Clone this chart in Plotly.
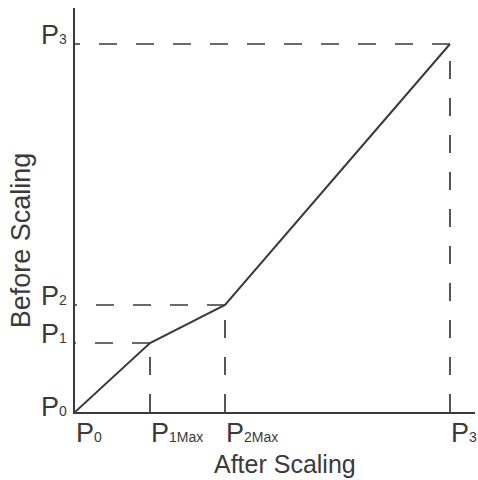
import plotly.graph_objects as go

# Data (in arbitrary units)
x_points = [0, 75, 150, 375]       # P0, P1Max, P2Max, P3 (after scaling)
y_points = [0, 69, 107, 368]       # P0, P1, P2, P3 (before scaling)
x_subs = ["0", "1Max", "2Max", "3"]
y_subs = ["0", "1", "2", "3"]

line_col = "#3a3a3a"
font_fam = "Liberation Sans, Arial, sans-serif"
SUB = "P<span style='font-size:14px'>{}</span>"
DASH = "18px,19px"

fig = go.Figure()

# dashed guide lines
for xv, yv in zip(x_points[1:], y_points[1:]):
    fig.add_trace(go.Scatter(x=[xv, 0], y=[yv, yv], mode="lines",
                             line=dict(color=line_col, width=1.7, dash=DASH),
                             hoverinfo="skip", showlegend=False))
    fig.add_trace(go.Scatter(x=[xv, xv], y=[0, yv], mode="lines",
                             line=dict(color=line_col, width=1.7, dash=DASH),
                             hoverinfo="skip", showlegend=False))

# main curve
fig.add_trace(go.Scatter(x=x_points, y=y_points, mode="lines",
                         line=dict(color=line_col, width=2),
                         showlegend=False))

annotations = []
for xv, s in zip(x_points, x_subs):
    annotations.append(dict(x=xv, y=0, xref="x", yref="y", text=SUB.format(s), showarrow=False,
                            xanchor="left", yanchor="top", yshift=-4, xshift=-1,
                            font=dict(family=font_fam, size=27, color=line_col)))
for yv, s in zip(y_points, y_subs):
    annotations.append(dict(x=0, y=yv, xref="x", yref="y", text=SUB.format(s), showarrow=False,
                            xanchor="right", yanchor="middle", yshift=9 if yv else 5, xshift=-6,
                            font=dict(family=font_fam, size=27, color=line_col)))
annotations.append(dict(x=0.524, y=0, xref="paper", yref="paper", text="After Scaling",
                        showarrow=False, xanchor="center", yanchor="middle", yshift=-52,
                        font=dict(family=font_fam, size=25, color=line_col)))
annotations.append(dict(x=0, y=0.425, xref="paper", yref="paper", text="Before Scaling",
                        showarrow=False, xanchor="center", yanchor="middle", xshift=-54,
                        textangle=-90,
                        font=dict(family=font_fam, size=27, color=line_col)))

fig.update_layout(
    width=478, height=480,
    margin=dict(l=75, r=3, t=8, b=68),
    paper_bgcolor="white", plot_bgcolor="white",
    xaxis=dict(range=[0, 400], showgrid=False, zeroline=False, showticklabels=False,
               showline=True, linecolor=line_col, linewidth=2, ticks=""),
    yaxis=dict(range=[0, 404], showgrid=False, zeroline=False, showticklabels=False,
               ticks="", showline=True, linecolor=line_col, linewidth=2),
    annotations=annotations,
)

fig.write_html("out.html", config={"displayModeBar": False},
               post_script="document.body.style.margin='0';")
